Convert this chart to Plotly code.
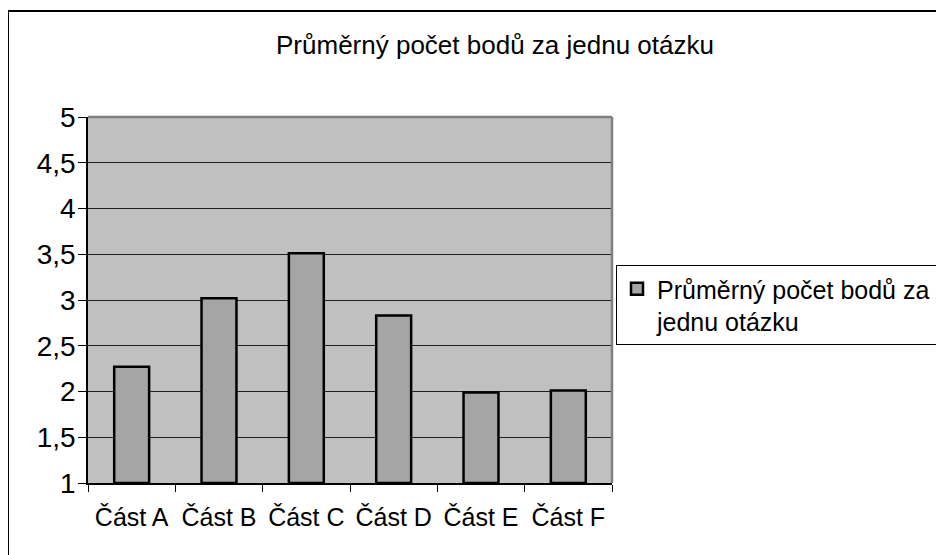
import plotly.graph_objects as go

categories = ["Část A", "Část B", "Část C", "Část D", "Část E", "Část F"]
values = [2.27, 3.02, 3.51, 2.83, 1.99, 2.01]
series_name = "Průměrný počet bodů za<br>jednu otázku"
title_text = "Průměrný počet bodů za jednu otázku"
y_ticks = [1, 1.5, 2, 2.5, 3, 3.5, 4, 4.5, 5]

FONT = "Liberation Sans, Arial, sans-serif"

fig = go.Figure()
fig.add_trace(go.Bar(
    x=categories, y=[v - 1 for v in values], base=1,
    name=series_name,
    marker=dict(color="#A5A5A5", line=dict(color="black", width=2.5)),
    width=0.4,
    showlegend=True,
))

# page has an 8px body margin, so figure coords = page coords - 8
OFF = 8
W, H = 944 - OFF, 555 - OFF
L, R, T, B = 88 - OFF, 612 - OFF, 117 - OFF, 483 - OFF

def px_x(px):
    return (px - OFF - L) / (R - L)

def px_y(py):
    return (B - (py - OFF)) / (B - T)

fig.update_layout(
    width=W, height=H,
    margin=dict(l=L, r=W - R, t=T, b=H - B, pad=0, autoexpand=False),
    paper_bgcolor="white",
    plot_bgcolor="#C0C0C0",
    separators=", ",
    font=dict(family=FONT, color="black", size=24),
    title=dict(text=title_text, x=(495 - OFF) / W, xanchor="center",
               y=1 - (45 - OFF) / H, yanchor="middle", yref="container",
               font=dict(size=26, family=FONT, color="black")),
    xaxis=dict(
        showgrid=False, showline=True, linecolor="black", linewidth=1.5,
        ticks="outside", tickson="boundaries", ticklen=7, tickcolor="black",
        tickfont=dict(size=25), range=[-0.5, 5.5], ticklabelstandoff=11,
        tickangle=0, automargin=False,
    ),
    yaxis=dict(
        range=[1, 5], tickvals=y_ticks, showgrid=True, gridcolor="#202020", gridwidth=1,
        showline=True, linecolor="black", linewidth=1.5,
        ticks="outside", ticklen=8, tickcolor="black", tickfont=dict(size=28),
        zeroline=False, ticklabelstandoff=-3, automargin=False,
    ),
    legend=dict(
        x=px_x(616), xanchor="left",
        y=px_y(265), yanchor="top",
        bordercolor="black", borderwidth=1, bgcolor="white",
        font=dict(size=25), valign="top",
        itemwidth=30, tracegroupgap=0,
    ),
    shapes=[
        dict(type="rect", xref="paper", yref="paper",
             x0=px_x(8), x1=px_x(1000),
             y0=px_y(700), y1=px_y(11),
             line=dict(color="black", width=2), fillcolor="rgba(0,0,0,0)", layer="below"),
        dict(type="line", xref="paper", yref="paper", x0=0, x1=1, y0=1, y1=1,
             line=dict(color="#808080", width=2.5)),
        dict(type="line", xref="paper", yref="paper", x0=1, x1=1, y0=0, y1=1,
             line=dict(color="#808080", width=2.5)),
    ],
    bargap=0.6,
)

fig.write_html("out.html")
